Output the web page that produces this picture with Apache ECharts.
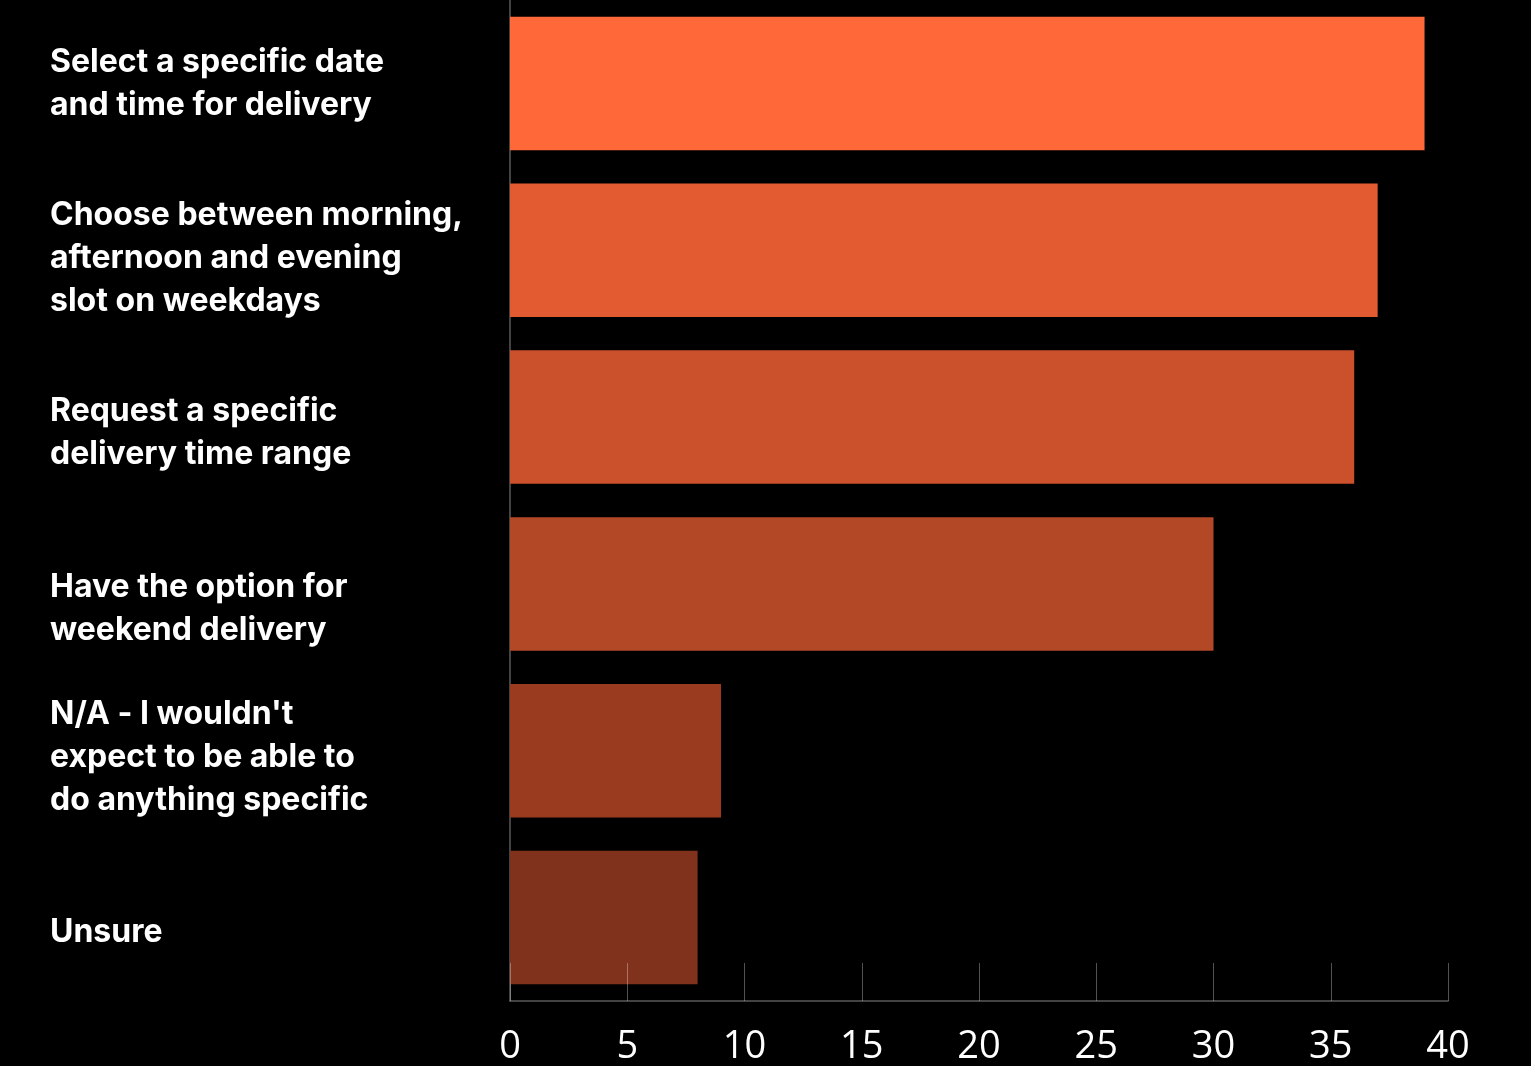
<!DOCTYPE html>
<html>
<head>
<meta charset="utf-8">
<style>
  html, body { margin: 0; padding: 0; background: #000; }
  #chart { width: 1531px; height: 1066px; }
</style>
<script src="https://cdn.jsdelivr.net/npm/echarts@6/dist/echarts.min.js"></script>
</head>
<body>
<div id="chart"></div>
<script>
// Survey answers: what people would like to do about delivery timing
const categories = [
  'Select a specific date\nand time for delivery',
  'Choose between morning,\nafternoon and evening\nslot on weekdays',
  'Request a specific\ndelivery time range',
  'Have the option for\nweekend delivery',
  "N/A - I wouldn't\nexpect to be able to\ndo anything specific",
  'Unsure'
];
const values = [39, 37, 36, 30, 9, 8];
const barColors = ['#FF6838', '#E35B31', '#CB502C', '#B34826', '#9A3B20', '#80321C'];
const xTicks = [0, 5, 10, 15, 20, 25, 30, 35, 40];

// small vertical nudges for each category label block (px)
const labelShift = [0, 8, 16, 25, 7, 15];

const baseLabel = { fontFamily: 'Inter', fontWeight: 'bold', fontSize: 32, color: '#fff', lineHeight: 43 };
const rich = {};
labelShift.forEach((s, i) => {
  rich['t' + i] = Object.assign({}, baseLabel, {
    padding: s >= 0 ? [2 * s, 0, 0, 0] : [0, 0, -2 * s, 0]
  });
});

const chart = echarts.init(document.getElementById('chart'), null, { renderer: 'canvas' });
chart.setOption({
  backgroundColor: '#000',
  animation: false,
  grid: { left: 510, right: 83, top: 0, bottom: 61, containLabel: false },
  xAxis: {
    type: 'value',
    min: 0, max: 40, interval: 5,
    z: 3,
    axisLine: { show: true, lineStyle: { color: '#5a5a5a', width: 1.5 } },
    axisTick: { show: true, inside: true, length: 38, lineStyle: { color: 'rgba(255,255,255,0.32)', width: 1 } },
    splitLine: { show: false },
    axisLabel: {
      margin: 27,
      fontFamily: 'Open Sans', fontSize: 38, color: '#fff',
      formatter: v => xTicks.includes(v) ? String(v) : ''
    }
  },
  yAxis: {
    type: 'category',
    inverse: true,
    data: categories,
    axisLine: { show: true, lineStyle: { color: '#5a5a5a', width: 1.5 } },
    axisTick: { show: false },
    axisLabel: {
      align: 'left',
      margin: 460,
      rich: rich,
      formatter: (val, idx) => val.split('\n').map(l => '{t' + idx + '|' + l + '}').join('\n')
    }
  },
  series: [{
    type: 'bar',
    data: values.map((v, i) => ({ value: v, itemStyle: { color: barColors[i] } })),
    barCategoryGap: '20%',
    z: 2
  }]
});
</script>
</body>
</html>
